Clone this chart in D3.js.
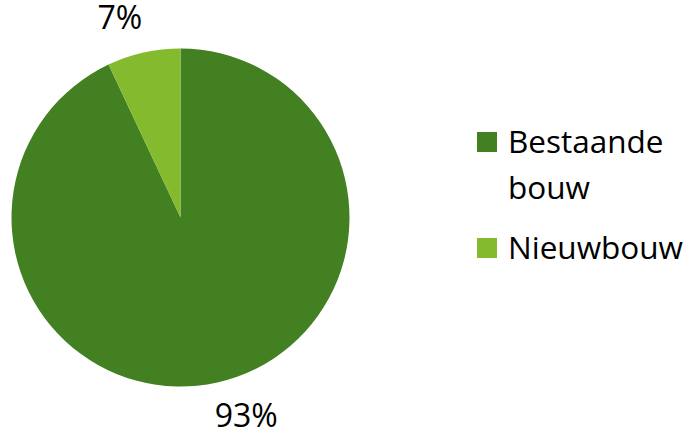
<!DOCTYPE html>
<html>
<head>
<meta charset="utf-8">
<script src="https://cdn.jsdelivr.net/npm/d3@7"></script>
<style>
  html, body { margin: 0; padding: 0; background: #fff; }
  svg { display: block; }
  text { font-family: "Open Sans", "Noto Sans", sans-serif; fill: #000; }
</style>
</head>
<body>
<svg id="chart" width="692" height="432"></svg>
<script>
// Share of housing stock: existing buildings vs new construction
const categories = ["Bestaande bouw", "Nieuwbouw"];
const values = [93, 7];
const valueLabels = ["93%", "7%"];
const legendLines = [["Bestaande", "bouw"], ["Nieuwbouw"]];
const colors = ["#428022", "#84BA2E"];

const svg = d3.select("#chart");
const cx = 180.5, cy = 217.5, radius = 169;

const data = categories.map((c, i) => ({ name: c, value: values[i], label: valueLabels[i], color: colors[i] }));

const pie = d3.pie().value(d => d.value).sort(null);
const arc = d3.arc().innerRadius(0).outerRadius(radius);
// label ring just outside the pie; each label is nudged along the ring
const labelRadius = radius + 40;
const labelNudge = [-0.1, -0.075]; // radians, per slice

const g = svg.append("g").attr("transform", `translate(${cx},${cy})`);
const arcs = pie(data);

g.selectAll("path.slice")
  .data(arcs)
  .join("path")
  .attr("class", "slice")
  .attr("d", arc)
  .attr("fill", d => d.data.color);

// Percent labels placed outside each slice
g.selectAll("text.pct")
  .data(arcs)
  .join("text")
  .attr("class", "pct")
  .attr("transform", (d, i) => {
    const a = (d.startAngle + d.endAngle) / 2 + labelNudge[i];
    const x = Math.sin(a) * labelRadius;
    const y = -Math.cos(a) * labelRadius;
    return `translate(${x},${y})`;
  })
  .attr("text-anchor", "middle")
  .attr("dy", "0.36em")
  .style("font-size", "32px")
  .text(d => d.data.label);

// Legend
const legend = svg.append("g").attr("transform", "translate(477,132)");
const rowY = [0, 106];
const item = legend.selectAll("g.item")
  .data(data)
  .join("g")
  .attr("class", "item")
  .attr("transform", (d, i) => `translate(0,${rowY[i]})`);

item.append("rect")
  .attr("width", 20).attr("height", 20)
  .attr("fill", d => d.color);

item.append("text")
  .style("font-size", "31.5px")
  .selectAll("tspan")
  .data((d, i) => legendLines[i])
  .join("tspan")
  .attr("x", 31)
  .attr("y", (d, j) => 21 + j * 46)
  .text(d => d);
</script>
</body>
</html>
